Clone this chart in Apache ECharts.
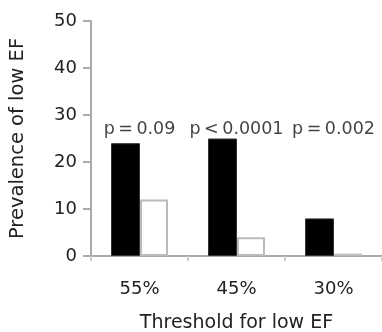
<!DOCTYPE html>
<html><head><meta charset="utf-8">
<script src="https://cdn.jsdelivr.net/npm/echarts@6/dist/echarts.min.js"></script>
<style>html,body{margin:0;padding:0;background:#fff}#c{width:382px;height:332px}</style>
</head><body><div id="c"></div>
<script>
const categories = ['55%', '45%', '30%'];
const groupA = [24, 25, 8];      // black bars
const groupB = [12, 4, 0.5];     // white bars
const pLabels = ['p\u2009=\u20090.09', 'p\u2009<\u20090.0001', 'p\u2009=\u20090.002'];
const pLabelLevel = [27, 27, 27];
const yTicks = [0, 10, 20, 30, 40, 50];

const FONT = 'DejaVu Sans';
const chart = echarts.init(document.getElementById('c'), null, {renderer: 'canvas'});
chart.setOption({
  animation: false,
  grid: {left: 91, top: 21, width: 291, height: 235, outerBoundsMode: 'none', containLabel: false},
  xAxis: {
    type: 'category', data: categories,
    name: 'Threshold for low EF', nameLocation: 'middle', nameGap: 58,
    nameTextStyle: {fontFamily: FONT, fontSize: 19, color: '#222'},
    axisLine: {lineStyle: {color: '#aaa', width: 2}},
    axisTick: {show: true, length: 5, lineStyle: {color: '#ccc', width: 2}},
    axisLabel: {fontFamily: FONT, fontSize: 18, color: '#222', margin: 24}
  },
  yAxis: {
    type: 'value', min: yTicks[0], max: yTicks[yTicks.length - 1], interval: 10,
    name: 'Prevalence of low EF', nameLocation: 'middle', nameGap: 63, nameRotate: 90,
    nameTextStyle: {fontFamily: FONT, fontSize: 19.5, color: '#222'},
    axisLine: {show: true, lineStyle: {color: '#aaa', width: 2}},
    axisTick: {show: true, length: 8, lineStyle: {color: '#aaa', width: 2}},
    axisLabel: {fontFamily: FONT, fontSize: 18, color: '#222', margin: 14},
    splitLine: {show: false}
  },
  series: [
    {type: 'bar', data: groupA, barWidth: 29, barGap: '0%',
     itemStyle: {color: '#000', borderColor: '#333', borderWidth: 1}},
    {type: 'bar', data: groupB, barWidth: 28,
     itemStyle: {color: '#fff', borderColor: '#bbb', borderWidth: 2}},
    {type: 'scatter', data: pLabelLevel, symbolSize: 0, z: 5,
     label: {show: true, position: 'inside', fontFamily: FONT, fontSize: 17.5, color: '#111',
       formatter: p => pLabels[p.dataIndex]}}
  ]
});
</script></body></html>
